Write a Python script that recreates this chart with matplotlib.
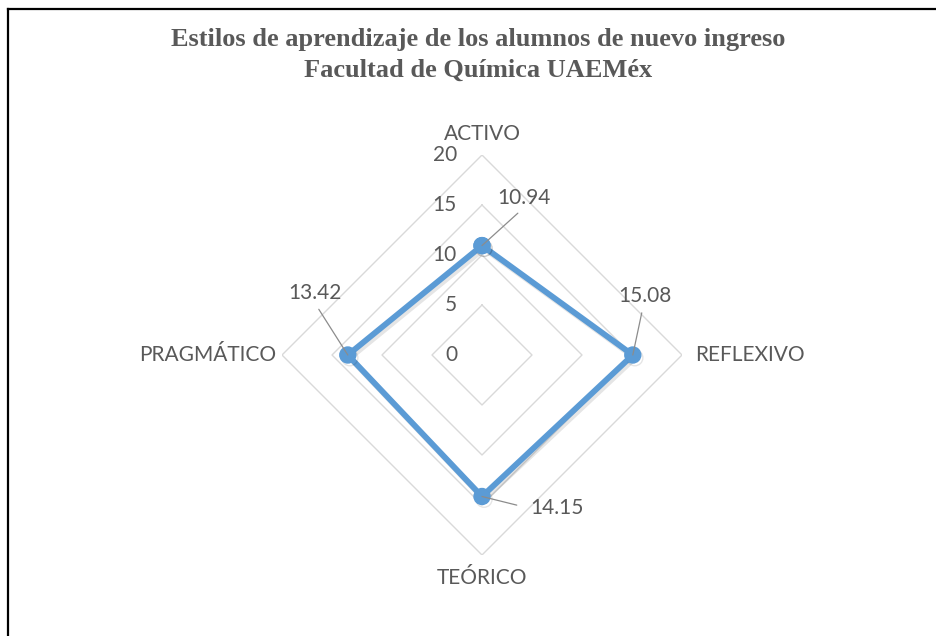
"""
Radar chart: estilos de aprendizaje, Facultad de Química UAEMéx
"""

import numpy as np
import matplotlib
matplotlib.use("Agg")
import matplotlib.pyplot as plt
from matplotlib.lines import Line2D
import matplotlib.patheffects as pe

categories = ["ACTIVO", "REFLEXIVO", "TEÓRICO", "PRAGMÁTICO"]
values = [10.94, 15.08, 14.15, 13.42]
rings = [0, 5, 10, 15, 20]
title = "Estilos de aprendizaje de los alumnos de nuevo ingreso\nFacultad de Química UAEMéx"

LINE = "#5B9BD5"
TXT = "#595959"
GRID = "#D9D9D9"
LABEL_FONT = ["Lato", "DejaVu Sans"]


def main():
    fig = plt.figure(figsize=(9.36, 6.36), dpi=100)
    W, H = 936, 636
    cx, cy, R = 482, 355, 200
    ax = fig.add_axes([(cx - R) / W, (H - cy - R) / H, 2 * R / W, 2 * R / H],
                      projection="polar")
    ax.set_theta_zero_location("N")
    ax.set_theta_direction(-1)
    ax.set_ylim(0, rings[-1])
    ax.grid(False)
    ax.spines["polar"].set_visible(False)
    ax.set_xticks([])
    ax.set_yticks([])
    ax.patch.set_alpha(0)

    n = len(categories)
    theta = np.arange(n) * 2 * np.pi / n
    closed = np.append(theta, theta[0])

    # polygon grid
    for r in rings[1:]:
        ax.plot(closed, [r] * (n + 1), color=GRID, lw=1.0, zorder=1)

    # ring labels along the vertical axis
    for r in rings:
        ax.annotate(str(r), xy=(0, r), xytext=(-25, 0), textcoords="offset pixels",
                    ha="right", va="center", fontsize=15, color=TXT,
                    family=LABEL_FONT, annotation_clip=False)

    # series
    vals = np.append(values, values[0])
    shadow = [pe.SimpleLineShadow(offset=(1.5, -2), shadow_color="#000000", alpha=0.1),
              pe.Normal()]
    ax.plot(closed, vals, color=LINE, lw=4.2, marker="o", markersize=11.5,
            solid_joinstyle="miter", path_effects=shadow, zorder=3, clip_on=False)

    # category labels
    cat_pos = [((0, 21), "center", "center"),
               ((13, 0), "left", "center"),
               ((0, -23), "center", "center"),
               ((-6, 0), "right", "center")]
    for t, name, (off, ha, va) in zip(theta, categories, cat_pos):
        ax.annotate(name, xy=(t, rings[-1]), xytext=off, textcoords="offset pixels",
                    ha=ha, va=va, fontsize=15, color=TXT, family=LABEL_FONT,
                    annotation_clip=False)

    # data labels with leader lines
    lab_pos = [((42, 48), (0.5, 0.0), 3),
               ((12, 59), (0.47, 0.0), 3),
               ((75, -12), (0.0, 0.5), 8),
               ((-33, 62), (0.5, 0.0), 3)]
    for t, v, (off, rel, shr) in zip(theta, values, lab_pos):
        ax.annotate(f"{v:.2f}", xy=(t, v), xytext=off, textcoords="offset pixels",
                    ha="center", va="center", fontsize=15, color=TXT,
                    family=LABEL_FONT, annotation_clip=False, zorder=5,
                    arrowprops=dict(arrowstyle="-", color="#8C8C8C", lw=0.9,
                                    relpos=rel, shrinkA=shr, shrinkB=0))

    fig.text(478 / W, 1 - 55 / H, title, ha="center", va="center",
             fontsize=19, fontweight="bold", color=TXT,
             family=["Liberation Serif", "DejaVu Serif"], linespacing=1.45)

    # frame (only top and left edges are visible)
    fig.add_artist(Line2D([8 / W, 1], [1 - 9 / H, 1 - 9 / H], color="black", lw=1.6,
                          transform=fig.transFigure))
    fig.add_artist(Line2D([8 / W, 8 / W], [0, 1 - 9 / H], color="black", lw=1.6,
                          transform=fig.transFigure))

    fig.savefig("out.png", dpi=100)
    plt.close(fig)


if __name__ == "__main__":
    main()
